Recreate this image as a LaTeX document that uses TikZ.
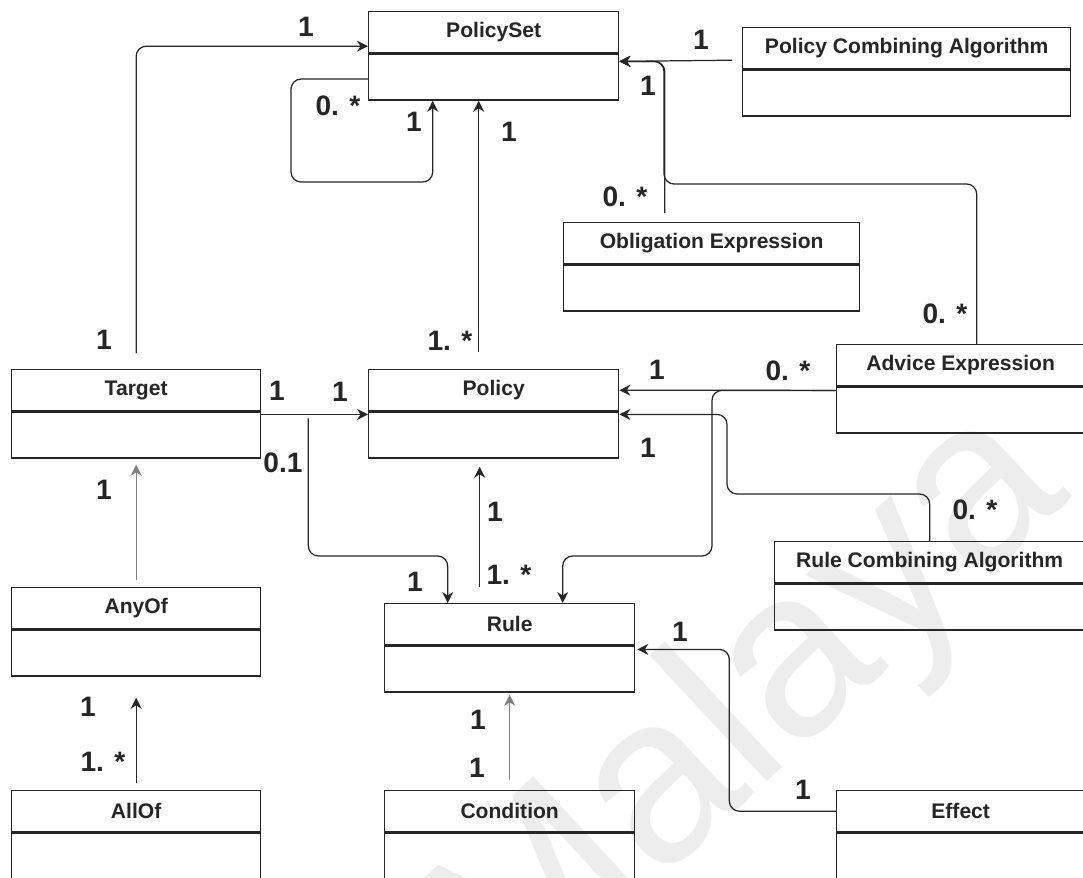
\documentclass[tikz,border=0pt]{standalone}
\usepackage{fontspec}
\setmainfont{Liberation Sans}
\usetikzlibrary{arrows.meta, calc}
\definecolor{linec}{HTML}{262626}
\definecolor{greyline}{HTML}{7F7F7F}
\definecolor{wmark}{HTML}{EDEDED}

\tikzset{
  clshead/.style={draw=linec, line width=0.8pt, anchor=north west, minimum height=0.82cm,
    inner sep=0pt, font=\bfseries\fontsize{12}{14}\selectfont, text=linec},
  clsbody/.style={draw=linec, line width=0.8pt, anchor=north, minimum height=0.92cm, inner sep=0pt},
  assoc/.style={draw=linec, line width=0.7pt, ->, rounded corners=0.2cm},
  mult/.style={font=\bfseries\fontsize{16}{18}\selectfont, text=linec, inner sep=0pt},
}

\begin{document}
\begin{tikzpicture}[x=0.02cm, y=-0.02cm, >={Stealth[length=2.2mm, width=2.2mm]}]

\useasboundingbox (0,0) rectangle (1083,877);
\clip (0,0) rectangle (1083,877);
\fill[white] (0,0) rectangle (1083,877);

% watermark
\node[rotate=43, text=wmark, font=\fontsize{135}{135}\selectfont] (wm) at (752,712) {Malaya};

% =====================================================
% Classes (title row + empty body)
% =====================================================
\node[clshead, minimum width=5cm] (pset) at (368,11) {PolicySet};
\node[clsbody, minimum width=5cm] (psetb) at (pset.south) {};

\node[clshead, minimum width=6.56cm] (pca) at (742,27) {Policy Combining Algorithm};
\node[clsbody, minimum width=6.56cm] (pcab) at (pca.south) {};

\node[clshead, minimum width=5.92cm] (obl) at (563,222) {Obligation Expression};
\node[clsbody, minimum width=5.92cm] (oblb) at (obl.south) {};

\node[clshead, minimum width=4.96cm] (adv) at (836,344) {Advice Expression};
\node[clsbody, minimum width=4.96cm] (advb) at (adv.south) {};

\node[clshead, minimum width=4.98cm] (tgt) at (11,369) {Target};
\node[clsbody, minimum width=4.98cm] (tgtb) at (tgt.south) {};

\node[clshead, minimum width=5cm] (pol) at (368,369) {Policy};
\node[clsbody, minimum width=5cm] (polb) at (pol.south) {};

\node[clshead, minimum width=6.2cm] (rca) at (774,541) {Rule Combining Algorithm};
\node[clsbody, minimum width=6.2cm] (rcab) at (rca.south) {};

\node[clshead, minimum width=4.98cm] (any) at (11,587) {AnyOf};
\node[clsbody, minimum width=4.98cm] (anyb) at (any.south) {};

\node[clshead, minimum width=5cm] (rule) at (384,603) {Rule};
\node[clsbody, minimum width=5cm] (ruleb) at (rule.south) {};

\node[clshead, minimum width=4.98cm] (all) at (11,790) {AllOf};
\node[clsbody, minimum width=4.98cm] (allb) at (all.south) {};

\node[clshead, minimum width=5cm] (cond) at (384,790) {Condition};
\node[clsbody, minimum width=5cm] (condb) at (cond.south) {};

\node[clshead, minimum width=4.96cm] (eff) at (836,790) {Effect};
\node[clsbody, minimum width=4.96cm] (effb) at (eff.south) {};

% =====================================================
% Associations into PolicySet
% =====================================================
\draw[assoc] ($(tgt.north)+(0,-16)$) |- ($(pset.west)+(0,14)$);
\node[mult] (m1) at (306,27) {1};
\node[mult] (m2) at (104,340) {1};

% self loop
\draw[assoc] ($(psetb.west)+(0,2)$) -| (291,182) -| ($(psetb.south)+(-61,0)$);
\node[mult] (m3) at (338,106) {0. *};
\node[mult] (m4) at (414,122) {1};

\draw[assoc] ($(pol.north)+(-15,-17)$) -- ($(psetb.south)+(-15,0)$);
\node[mult] (m5) at (509,132) {1};
\node[mult] (m6) at (450,341) {1. *};

\draw[assoc] ($(pca.west)+(-10,12)$) -- ($(psetb.north east)+(0,8)$);
\node[mult] (m7) at (701,40) {1};

\draw[assoc] ($(obl.north)+(-47,-9)$) |- ($(psetb.north east)+(0,8)$);
\draw[assoc] ($(adv.north)+(16,0)$) |- (664,184) |- ($(psetb.north east)+(0,8)$);
\node[mult] (m8) at (648,86) {1};
\node[mult] (m9) at (625,197) {0. *};
\node[mult] (m10) at (945,314) {0. *};

% =====================================================
% Associations into Policy
% =====================================================
\draw[assoc] ($(tgtb.north east)+(0,3)$) -- ($(polb.north west)+(0,3)$);
\node[mult] (m11) at (277,391) {1};
\node[mult] (m12) at (340,392) {1};

\draw[assoc] ($(advb.north west)+(0,4)$) -- (pol.east);
\node[mult] (m13) at (657,370) {1};
\node[mult] (m14) at (788,371) {0. *};

\draw[assoc] (rca.north) |- (727,494) |- ($(polb.north east)+(0,3)$);
\node[mult] (m15) at (648,448) {1};
\node[mult] (m16) at (975,510) {0. *};

\draw[assoc] ($(rule.north)+(-30,-16)$) -- ($(polb.south)+(-14,8)$);
\node[mult] (m17) at (495,512) {1};
\node[mult] (m18) at (509,575) {1. *};

% =====================================================
% Associations into Rule
% =====================================================
\draw[assoc] ($(tgtb.north east)+(47,7)$) |- ($(rule.north)+(-62,-47)$) -- ($(rule.north)+(-62,0)$);
\node[mult] (m19) at (283,463) {0.1};
\node[mult] (m20) at (415,582) {1};

\draw[assoc] ($(advb.north west)+(0,4)$) -| (712,556) -| ($(rule.north)+(53,0)$);

\draw[assoc] (eff.west) -| ($(ruleb.north east)+(94,4)$) -- ($(ruleb.north east)+(2,4)$);
\node[mult] (m21) at (680,632) {1};
\node[mult] (m22) at (803,790) {1};

\draw[assoc, draw=greyline] ($(cond.north)+(0,-10)$) -- ($(ruleb.south)+(0,2)$);
\node[mult] (m23) at (478,720) {1};
\node[mult] (m24) at (477,768) {1};

% =====================================================
% Target side
% =====================================================
\draw[assoc, draw=greyline] ($(any.north)+(0,-7)$) -- ($(tgtb.south)+(0,6)$);
\node[mult] (m25) at (104,490) {1};

\draw[assoc] ($(all.north)+(0,-7)$) -- ($(anyb.south)+(0,21)$);
\node[mult] (m26) at (88,707) {1};
\node[mult] (m27) at (103,762) {1. *};

\end{tikzpicture}
\end{document}
